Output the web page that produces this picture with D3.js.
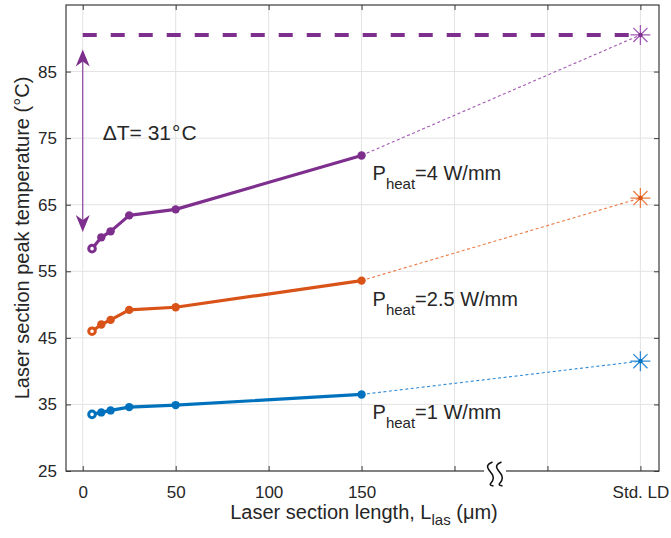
<!DOCTYPE html>
<html><head><meta charset="utf-8">
<script src="https://cdn.jsdelivr.net/npm/d3@7/dist/d3.min.js"></script>
<style>
body{margin:0;background:#fff;}
text{font-family:"Liberation Sans",Arial,Helvetica,sans-serif;fill:#262626;}
</style></head>
<body><svg id="c" width="671" height="538"></svg>
<script>
// ---- data ----
const lengths = [5, 10, 15, 25, 50, 150];
const stdPos = 300;
const p4 = [58.4, 60.1, 61.0, 63.4, 64.3, 72.4];
const p25 = [46.0, 47.0, 47.7, 49.2, 49.6, 53.6];
const p1 = [33.5, 33.8, 34.1, 34.6, 34.9, 36.5];
const stdValues = [90.5, 66.0, 41.5];
const seriesNames = ["4", "2.5", "1"];
const xTicks = [0, 50, 100, 150, 200, 250, 300];
const xTickLabels = ["0", "50", "100", "150", "", "", "Std. LD"];
const yTicks = [25, 35, 45, 55, 65, 75, 85];
const arrowRange = [88.3, 60.9];
const deltaT = 31;

const colors = ["#7E2F8E", "#D95319", "#0072BD"];
const light = ["#A259B3", "#EC7A42", "#2F8AD6"];

const svg = d3.select("#c");
const L = 66, R = 659, T = 5, B = 471;
const x = d3.scaleLinear().domain([-9, 310]).range([L, R]);
const y = d3.scaleLinear().domain([25, 95]).range([B, T]);

// grid
const g = svg.append("g");
g.selectAll(".vg").data(xTicks).enter().append("line")
  .attr("x1", d => x(d)).attr("x2", d => x(d)).attr("y1", T).attr("y2", B)
  .attr("stroke", "#e3e3e3").attr("stroke-width", 1);
g.selectAll(".hg").data(yTicks).enter().append("line")
  .attr("x1", L).attr("x2", R).attr("y1", d => y(d)).attr("y2", d => y(d))
  .attr("stroke", "#e3e3e3").attr("stroke-width", 1);

// axes
const axColor = "#3a3a3a";
const xAxis = d3.axisBottom(x).tickValues(xTicks).tickSize(-5).tickPadding(15)
  .tickFormat((d, i) => xTickLabels[i]);
const xa = svg.append("g").attr("transform", `translate(0,${B})`).call(xAxis);
const yAxis = d3.axisLeft(y).tickValues(yTicks).tickSize(-5).tickPadding(9);
const ya = svg.append("g").attr("transform", `translate(${L},0)`).call(yAxis);
const xt = svg.append("g").attr("transform", `translate(0,${T})`)
  .call(d3.axisTop(x).tickValues(xTicks).tickSize(-5).tickFormat(""));
const yr = svg.append("g").attr("transform", `translate(${R},0)`)
  .call(d3.axisRight(y).tickValues(yTicks).tickSize(-5).tickFormat(""));
[xa, ya, xt, yr].forEach(a => {
  a.select(".domain").attr("d", null);
  a.selectAll(".tick line").attr("stroke", axColor);
  a.selectAll("text").style("font-size", "17px").attr("fill", "#262626")
    .style("font-family", '"Liberation Sans",Arial,sans-serif');
});
svg.append("rect").attr("x", L).attr("y", T).attr("width", R - L).attr("height", B - T)
  .attr("fill", "none").attr("stroke", axColor).attr("stroke-width", 1.2);

// axis break symbol
const bx = (x(200) + x(250)) / 2 - 6;
svg.append("rect").attr("x", bx - 11).attr("y", B - 3).attr("width", 22).attr("height", 6).attr("fill", "#fff");
[bx - 4.5, bx + 4.5].forEach(cx => {
  svg.append("path")
    .attr("d", d3.line().curve(d3.curveBasis)([[cx + 2, B - 9], [cx - 4, B - 6], [cx - 2, B - 1], [cx + 3, B + 4], [cx + 3, B + 10], [cx - 2, B + 14], [cx + 3, B + 15]]))
    .attr("fill", "none").attr("stroke", "#111").attr("stroke-width", 1.5);
});

// horizontal dashed reference line
svg.append("line").attr("x1", x(0)).attr("x2", x(stdPos))
  .attr("y1", y(stdValues[0])).attr("y2", y(stdValues[0]))
  .attr("stroke", colors[0]).attr("stroke-width", 4).attr("stroke-dasharray", "14,14");

// series
const series = [p4, p25, p1];
series.forEach((vals, si) => {
  const pts = lengths.map((l, i) => [l, vals[i]]);
  svg.append("line")
    .attr("x1", x(lengths[lengths.length - 1])).attr("y1", y(vals[vals.length - 1]))
    .attr("x2", x(stdPos)).attr("y2", y(stdValues[si]))
    .attr("stroke", light[si]).attr("stroke-width", 1.1).attr("stroke-dasharray", "3,2.5");
  svg.append("path").datum(pts)
    .attr("d", d3.line().x(d => x(d[0])).y(d => y(d[1])))
    .attr("fill", "none").attr("stroke", colors[si]).attr("stroke-width", 3.2)
    .attr("stroke-linejoin", "round");
  svg.selectAll(null).data(pts).enter().append("circle")
    .attr("cx", d => x(d[0])).attr("cy", d => y(d[1]))
    .attr("r", (d, i) => i === 0 ? 3.3 : 4.2)
    .attr("fill", (d, i) => i === 0 ? "#fff" : colors[si])
    .attr("stroke", colors[si]).attr("stroke-width", (d, i) => i === 0 ? 3 : 0);
  const sx = x(stdPos), sy = y(stdValues[si]), r = 10;
  const star = [];
  for (let k = 0; k < 4; k++) {
    const a = k * Math.PI / 4;
    star.push(`M${sx - r * Math.cos(a)},${sy - r * Math.sin(a)}L${sx + r * Math.cos(a)},${sy + r * Math.sin(a)}`);
  }
  svg.append("path").attr("d", star.join("")).attr("stroke", light[si]).attr("stroke-width", 1.3);
  svg.append("circle").attr("cx", sx).attr("cy", sy).attr("r", 2.2).attr("fill", colors[si]);
  const lt = svg.append("text").attr("x", x(150) + 11).attr("y", y(vals[vals.length - 1]) + 25)
    .style("font-size", "20px");
  lt.append("tspan").text("P");
  lt.append("tspan").attr("dy", 9).style("font-size", "15px").text("heat");
  lt.append("tspan").attr("dy", -9).text("=" + seriesNames[si] + " W/mm");
});

// delta T arrow
const ax = x(0);
const yTop = y(arrowRange[0]), yBot = y(arrowRange[1]);
svg.append("line").attr("x1", ax).attr("x2", ax).attr("y1", yTop + 10).attr("y2", yBot - 10)
  .attr("stroke", "#8E44A0").attr("stroke-width", 1.2);
svg.append("path").attr("d", `M${ax},${yTop}L${ax + 7},${yTop + 17}L${ax},${yTop + 12}L${ax - 7},${yTop + 17}Z`)
  .attr("fill", colors[0]);
svg.append("path").attr("d", `M${ax},${yBot}L${ax + 7},${yBot - 17}L${ax},${yBot - 12}L${ax - 7},${yBot - 17}Z`)
  .attr("fill", colors[0]);
const dt = svg.append("text").attr("x", ax + 20).attr("y", y(74.7)).style("font-size", "21px");
dt.append("tspan").text(`\u0394T= ${deltaT}`);
dt.append("tspan").attr("dx", 1).text("\u00B0");
dt.append("tspan").attr("dx", 1).text("C");

// axis labels
svg.append("text").attr("transform", `translate(29,${(T + B) / 2}) rotate(-90)`)
  .attr("text-anchor", "middle").style("font-size", "20px")
  .text("Laser section peak temperature (\u00B0C)");
const xl = svg.append("text").attr("x", 364).attr("y", 519).attr("text-anchor", "middle").style("font-size", "20px");
xl.append("tspan").text("Laser section length, L");
xl.append("tspan").attr("dy", 6).style("font-size", "15px").text("las");
xl.append("tspan").attr("dy", -6).text(" (\u03BCm)");
</script></body></html>
